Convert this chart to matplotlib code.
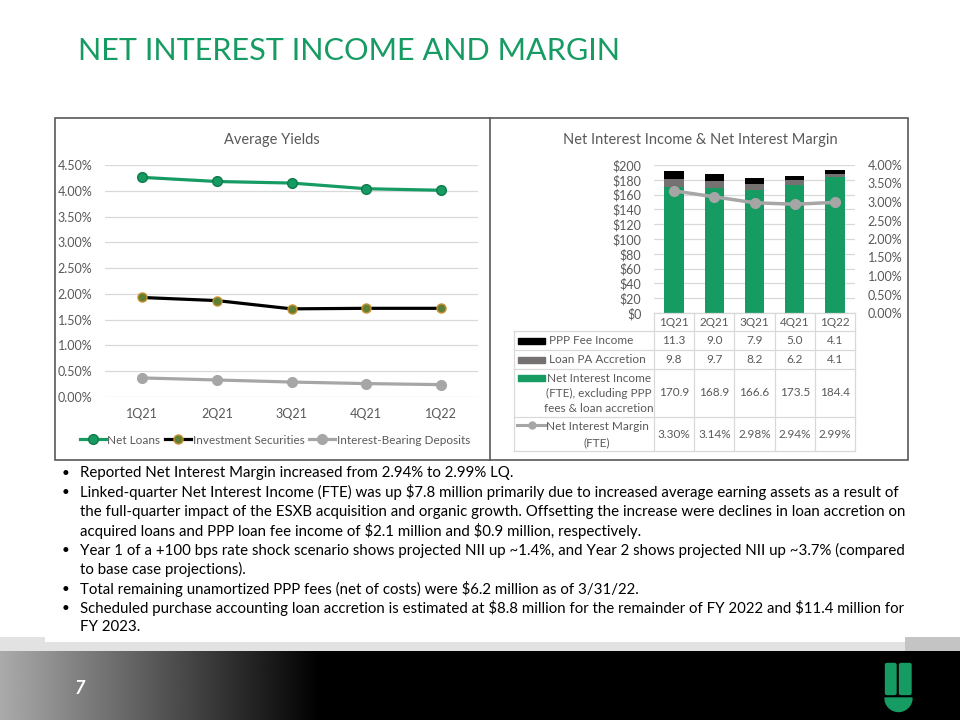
import numpy as np
import matplotlib
matplotlib.use("Agg")
import matplotlib.pyplot as plt
from matplotlib.patches import Rectangle, Wedge, FancyBboxPatch
from matplotlib.ticker import FuncFormatter, MultipleLocator

plt.rcParams["font.family"] = ["Lato", "DejaVu Sans"]
plt.rcParams["text.parse_math"] = False

# ------------------------------------------------------------
# data
# ------------------------------------------------------------
quarters = ["1Q21", "2Q21", "3Q21", "4Q21", "1Q22"]

# average yields (%)
net_loans = [4.26, 4.18, 4.15, 4.04, 4.01]
inv_securities = [1.93, 1.87, 1.71, 1.72, 1.72]
ib_deposits = [0.37, 0.33, 0.29, 0.26, 0.24]

# net interest income ($ millions) and margin (%)
ppp_fees = [11.3, 9.0, 7.9, 5.0, 4.1]
loan_pa_accretion = [9.8, 9.7, 8.2, 6.2, 4.1]
nii_core = [170.9, 168.9, 166.6, 173.5, 184.4]
nim = [3.30, 3.14, 2.98, 2.94, 2.99]

bullets = [
    ["Reported Net Interest Margin increased from 2.94% to 2.99% LQ."],
    ["Linked-quarter Net Interest Income (FTE) was up $7.8 million primarily due to increased average earning assets as a result of",
     "the full-quarter impact of the ESXB acquisition and organic growth. Offsetting the increase were declines in loan accretion on",
     "acquired loans and PPP loan fee income of $2.1 million and $0.9 million, respectively."],
    ["Year 1 of a +100 bps rate shock scenario shows projected NII up ~1.4%, and Year 2 shows projected NII up ~3.7% (compared",
     "to base case projections)."],
    ["Total remaining unamortized PPP fees (net of costs) were $6.2 million as of 3/31/22."],
    ["Scheduled purchase accounting loan accretion is estimated at $8.8 million for the remainder of FY 2022 and $11.4 million for",
     "FY 2023."],
]

GREEN = "#169B62"
GREY_TXT = "#595959"
GRID = "#D9D9D9"
PA_GREY = "#767171"
NIM_GREY = "#A6A6A6"

W, H = 960, 720


def px_box(x0, y0, x1, y1):
    return [x0 / W, 1 - y1 / H, (x1 - x0) / W, (y1 - y0) / H]


fig = plt.figure(figsize=(9.6, 7.2), dpi=100)
renderer = fig.canvas.get_renderer()

# background / slide layer in pixel coordinates
bg = fig.add_axes([0, 0, 1, 1], zorder=0)
bg.set_xlim(0, W)
bg.set_ylim(H, 0)
bg.axis("off")


def fit_width(t, width_px):
    w = t.get_window_extent(renderer).width
    t.set_fontsize(t.get_fontsize() * width_px / w)
    return t.get_fontsize()


# title
title = bg.text(78, 51, "NET INTEREST INCOME AND MARGIN", color=GREEN,
                fontsize=24, va="center", ha="left")
fit_width(title, 544)

# chart frame
bg.add_patch(Rectangle((55, 118), 853, 342, fill=False, ec="#595959", lw=1.2))
bg.plot([490, 490], [118, 460], color="#595959", lw=1.2)

# ============================================================
#  Average Yields
# ============================================================
x = np.arange(len(quarters))
ax1 = fig.add_axes(px_box(105, 165, 478, 397))
ax1.patch.set_alpha(0)
l1, = ax1.plot(x, net_loans, color=GREEN, lw=2.3, marker="o", ms=7,
               mfc=GREEN, mec="#0F7A4C", label="Net Loans")
l2, = ax1.plot(x, inv_securities, color="black", lw=2.3, marker="o", ms=6.5,
               mfc="#5E7F35", mec="#C8912E", mew=1, label="Investment Securities")
l3, = ax1.plot(x, ib_deposits, color=NIM_GREY, lw=2.3, marker="o", ms=7,
               mfc=NIM_GREY, mec=NIM_GREY, label="Interest-Bearing Deposits")
ax1.set_xlim(-0.5, 4.5)
ax1.set_ylim(0, 4.5)
ax1.yaxis.set_major_locator(MultipleLocator(0.5))
ax1.yaxis.set_major_formatter(FuncFormatter(lambda v, p: f"{v:.2f}%"))
ax1.set_xticks(x)
ax1.set_xticklabels(quarters)
ax1.grid(axis="y", color=GRID, lw=0.9)
ax1.set_axisbelow(True)
for s in ax1.spines.values():
    s.set_visible(False)
ax1.tick_params(axis="y", length=0, pad=9, labelsize=9, labelcolor=GREY_TXT)
ax1.tick_params(axis="x", length=0, pad=8, labelsize=9, labelcolor=GREY_TXT)

bg.text(272, 140, "Average Yields", ha="center", va="center", fontsize=10.5, color=GREY_TXT)
fig.legend(handles=[l1, l2, l3], loc="center", bbox_to_anchor=(275 / W, 1 - 440 / H),
           ncol=3, frameon=False, fontsize=8.5, handlelength=2.2, handletextpad=0.15,
           columnspacing=0.4, labelcolor=GREY_TXT)

# ============================================================
#  Net Interest Income & Net Interest Margin
# ============================================================
ax2 = fig.add_axes(px_box(654, 165, 855, 313))
ax2.patch.set_alpha(0)
base2 = np.array(nii_core)
base3 = base2 + np.array(loan_pa_accretion)
ax2.bar(x, nii_core, width=0.48, color=GREEN, zorder=2)
ax2.bar(x, loan_pa_accretion, width=0.48, bottom=base2, color=PA_GREY, zorder=2)
ax2.bar(x, ppp_fees, width=0.48, bottom=base3, color="black", zorder=2)
ax2.set_xlim(-0.5, 4.5)
ax2.set_ylim(0, 200)
ax2.yaxis.set_major_locator(MultipleLocator(20))
ax2.yaxis.set_major_formatter(FuncFormatter(lambda v, p: f"${v:.0f}"))
ax2.set_xticks([])
ax2.grid(axis="y", color=GRID, lw=0.9)
ax2.set_axisbelow(True)
for s in ax2.spines.values():
    s.set_visible(False)
ax2.tick_params(axis="y", length=0, pad=9, labelsize=9, labelcolor=GREY_TXT)

ax3 = ax2.twinx()
ax3.plot(x, nim, color=NIM_GREY, lw=2.5, marker="o", ms=7, mfc=NIM_GREY, mec=NIM_GREY, zorder=3)
ax3.set_ylim(0, 4)
ax3.yaxis.set_major_locator(MultipleLocator(0.5))
ax3.yaxis.set_major_formatter(FuncFormatter(lambda v, p: f"{v:.2f}%"))
for s in ax3.spines.values():
    s.set_visible(False)
ax3.tick_params(axis="y", length=0, pad=9, labelsize=9, labelcolor=GREY_TXT)

bg.text(700, 140, "Net Interest Income & Net Interest Margin", ha="center", va="center",
        fontsize=10.5, color=GREY_TXT)

# data table under the bars (x in category units, y in pixels from axis bottom)
col_px = 201 / 5
lab_units = 140 / col_px
tab = fig.add_axes(px_box(514, 313, 855, 451))
tab.set_xlim(-0.5 - lab_units, 4.5)
tab.set_ylim(138, 0)
tab.axis("off")
row_edges = [18, 37, 56, 104, 138]
for yy in row_edges:
    tab.plot([-0.5 - lab_units, 4.5], [yy, yy], color=GRID, lw=0.9, clip_on=False)
tab.plot([-0.5, 4.5], [0, 0], color=GRID, lw=0.9, clip_on=False)
for i in range(6):
    tab.plot([i - 0.5, i - 0.5], [0, 138], color=GRID, lw=0.9, clip_on=False)
tab.plot([-0.5 - lab_units] * 2, [18, 138], color=GRID, lw=0.9, clip_on=False)

row_mid = [27.5, 46.5, 80, 121]
for i, q in enumerate(quarters):
    tab.text(i, 9.5, q, ha="center", va="center", fontsize=8.5, color=GREY_TXT)
    tab.text(i, row_mid[0], f"{ppp_fees[i]:.1f}", ha="center", va="center", fontsize=8.5, color=GREY_TXT)
    tab.text(i, row_mid[1], f"{loan_pa_accretion[i]:.1f}", ha="center", va="center", fontsize=8.5, color=GREY_TXT)
    tab.text(i, row_mid[2], f"{nii_core[i]:.1f}", ha="center", va="center", fontsize=8.5, color=GREY_TXT)
    tab.text(i, row_mid[3], f"{nim[i]:.2f}%", ha="center", va="center", fontsize=8.5, color=GREY_TXT)

# row headers with legend keys (pixel coords)
bg.add_patch(Rectangle((518, 337.5), 27, 6, color="black"))
bg.text(549, 340.5, "PPP Fee Income", ha="left", va="center", fontsize=8.5, color=GREY_TXT)
bg.add_patch(Rectangle((518, 356.5), 27, 6, color=PA_GREY))
bg.text(549, 359.5, "Loan PA Accretion", ha="left", va="center", fontsize=8.5, color=GREY_TXT)
bg.add_patch(Rectangle((518, 375), 27, 6, color=GREEN))
for yy, s in zip([378, 393.5, 408], ["Net Interest Income", "(FTE), excluding PPP", "fees & loan accretion"]):
    bg.text(599, yy, s, ha="center", va="center", fontsize=8.5, color=GREY_TXT)
bg.plot([517, 546], [425, 425], color=NIM_GREY, lw=2.2)
bg.plot([531.5], [425], marker="o", ms=5, color=NIM_GREY)
bg.text(597, 426, "Net Interest Margin", ha="center", va="center", fontsize=8.5, color=GREY_TXT)
bg.text(597, 443, "(FTE)", ha="center", va="center", fontsize=8.5, color=GREY_TXT)

# ============================================================
#  bullets
# ============================================================
probe = bg.text(80, 0, bullets[1][0], fontsize=11, alpha=0)
bsize = fit_width(probe, 817)
probe.remove()
yy = 473
for item in bullets:
    bg.text(62, yy, "\u2022", ha="left", va="center", fontsize=bsize * 0.9, color="black")
    for line in item:
        bg.text(80, yy, line, ha="left", va="center", fontsize=bsize, color="black")
        yy += 19.3

# ============================================================
#  footer
# ============================================================
bg.add_patch(Rectangle((0, 637), W, 14, color="#E2E2E2", lw=0))
bg.add_patch(Rectangle((905, 637), 55, 14, color="#C4C4C4", lw=0))
bg.add_patch(Rectangle((45, 600), 860, 42, color="white", lw=0))
xs = np.arange(W)
shade = np.interp(xs, [0, 320], [0.67, 0.0])
grad = np.tile(shade, (2, 1))
bg.imshow(grad, cmap="gray", vmin=0, vmax=1, extent=[0, W, 720, 651], aspect="auto",
          interpolation="bilinear", zorder=1)
bg.set_xlim(0, W)
bg.set_ylim(H, 0)
bg.text(80, 689, "7", color="white", fontsize=13, fontweight="bold", fontstyle="italic",
        ha="center", va="center", zorder=3)

# logo
bg.add_patch(FancyBboxPatch((885.5, 663.5), 10.5, 31, boxstyle="round,pad=0,rounding_size=1.5",
                            color=GREEN, zorder=3))
bg.add_patch(FancyBboxPatch((899.5, 663.5), 11.5, 31, boxstyle="round,pad=0,rounding_size=1.5",
                            color=GREEN, zorder=3))
bg.add_patch(Wedge((898.5, 698), 13.5, 0, 180, color=GREEN, zorder=3))

fig.savefig("out.png", dpi=100)
